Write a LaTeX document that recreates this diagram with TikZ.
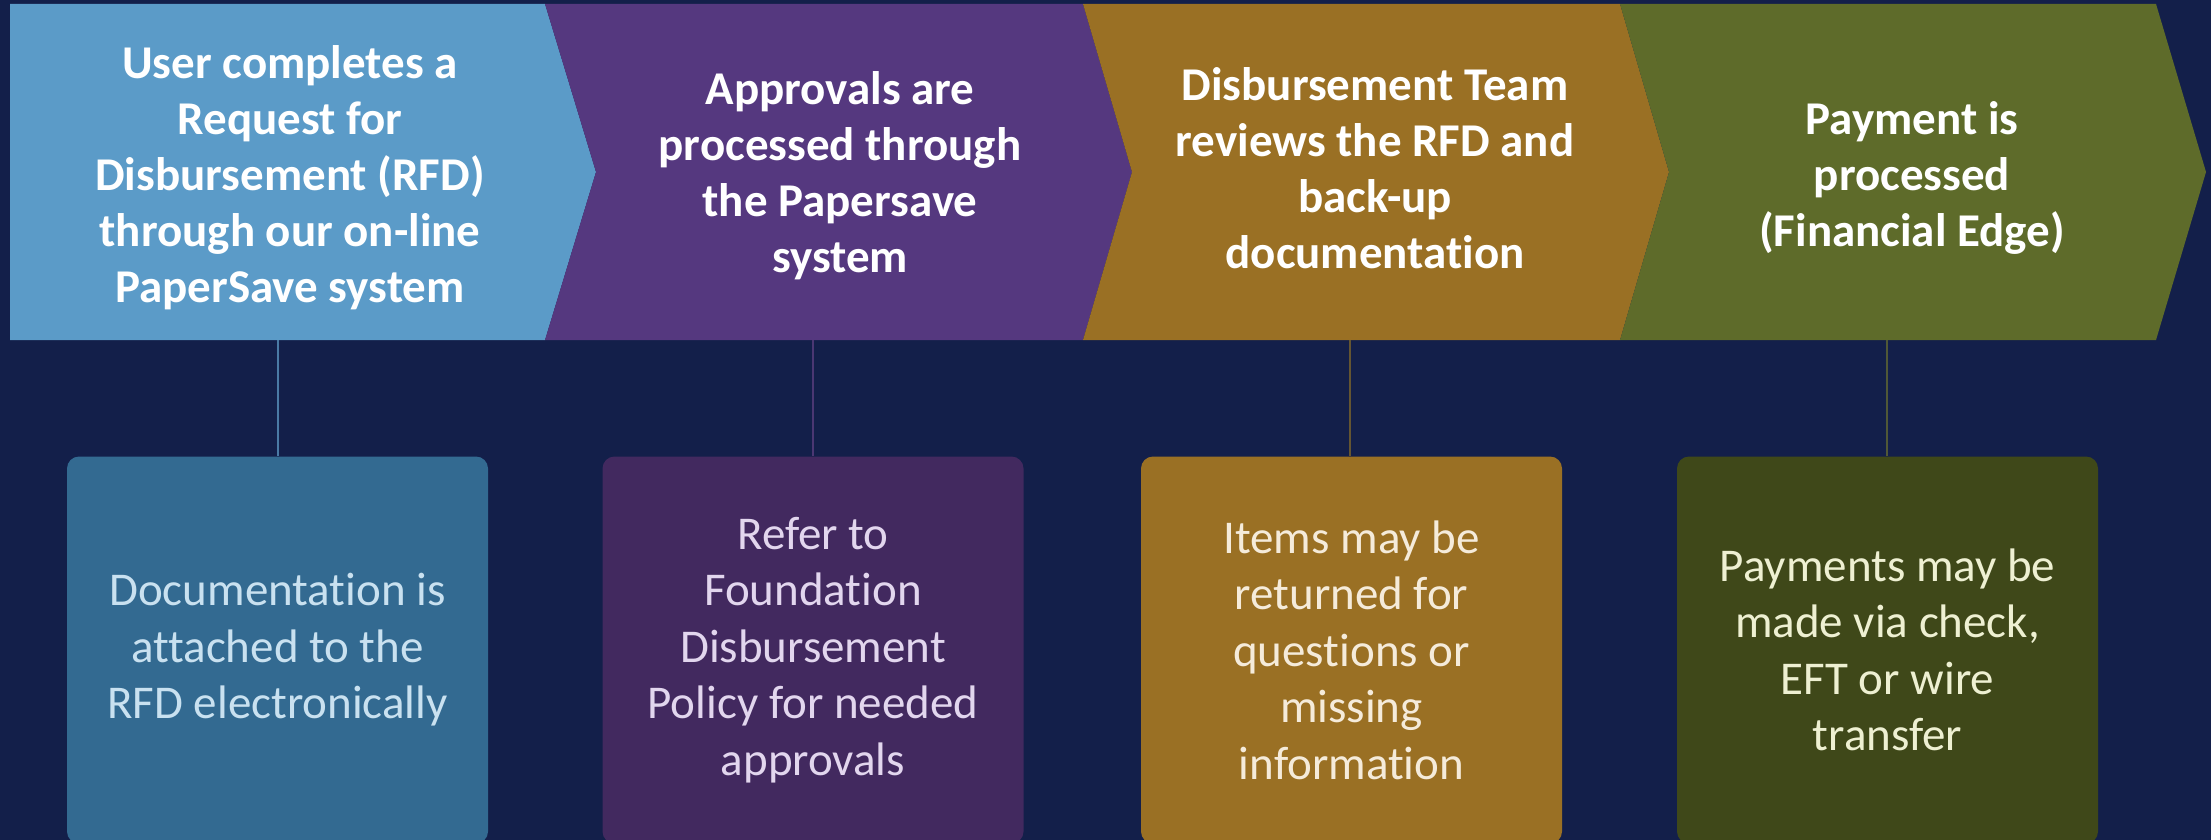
\documentclass[tikz,border=0pt]{standalone}
\usepackage{fontspec}
\setmainfont[RawFeature={-liga,-clig,-dlig}]{Carlito}
\definecolor{bg}{RGB}{19,31,74}
\definecolor{cblue}{RGB}{91,155,200}
\definecolor{cpurple}{RGB}{85,56,127}
\definecolor{cbrown}{RGB}{154,112,36}
\definecolor{cgreen}{RGB}{94,107,42}
\definecolor{bblue}{RGB}{51,106,145}
\definecolor{bpurple}{RGB}{66,41,95}
\definecolor{bbrown}{RGB}{154,112,36}
\definecolor{bgreen}{RGB}{63,72,25}
\definecolor{tblue}{RGB}{201,225,240}
\definecolor{tpurple}{RGB}{226,214,238}
\definecolor{tbrown}{RGB}{245,235,218}
\definecolor{tgreen}{RGB}{238,240,210}
\definecolor{lblue}{RGB}{74,122,165}
\definecolor{lpurple}{RGB}{75,55,115}
\definecolor{lbrown}{RGB}{100,85,50}
\definecolor{lgreen}{RGB}{80,88,55}
\tikzset{
  headtext/.style={text=white, align=center, font=\fontsize{47}{56}\selectfont\bfseries, inner sep=0pt},
  infobox/.style={rounded corners=12pt, minimum width=421pt, minimum height=387pt, align=center, inner sep=0pt, font=\fontsize{47}{56.5}\selectfont},
  link/.style={line width=1.5pt}
}
\begin{document}
\begin{tikzpicture}[x=1pt,y=-1pt]
\useasboundingbox (0,0) rectangle (2211,840);
\fill[bg] (0,0) rectangle (2211,840);
\begin{scope}
\clip (0,0) rectangle (2211,840);
% chevrons
\fill[cblue] (10,4) -- (545,4) -- (596,172) -- (545,340) -- (10,340) -- cycle;
\fill[cpurple] (545,4) -- (1083,4) -- (1132,172) -- (1083,340) -- (545,340) -- (596,172) -- cycle;
\fill[cbrown] (1083,4) -- (1620,4) -- (1669,172) -- (1620,340) -- (1083,340) -- (1132,172) -- cycle;
\fill[cgreen] (1620,4) -- (2156,4) -- (2206,172) -- (2156,340) -- (1620,340) -- (1669,172) -- cycle;
% chevron texts
\node[headtext] (h1) at (290,178) {User completes a\\Request for\\Disbursement (RFD)\\through our on-line\\PaperSave system};
\node[headtext] (h2) at (840,176) {Approvals are\\processed through\\the Papersave\\system};
\node[headtext] (h3) at (1375,168) {Disbursement Team\\reviews the RFD and\\back-up\\documentation};
\node[headtext] (h4) at (1912,178) {Payment is\\processed\\(Financial Edge)};
% anchor points under chevrons
\coordinate (c1) at (278,340);
\coordinate (c2) at (813,340);
\coordinate (c3) at (1350,340);
\coordinate (c4) at (1887,340);
% boxes
\node[infobox, fill=bblue, text=tblue] (b1) at (277.5,650) {Documentation is\\attached to the\\RFD electronically};
\node[infobox, fill=bpurple, text=tpurple] (b2) at (813,650) {Refer to\\Foundation\\Disbursement\\Policy for needed\\approvals};
\node[infobox, fill=bbrown, text=tbrown] (b3) at (1351.5,650) {Items may be\\returned for\\questions or\\missing\\information};
\node[infobox, fill=bgreen, text=tgreen] (b4) at (1887.5,650) {Payments may be\\made via check,\\EFT or wire\\transfer};
% connectors
\draw[link, lblue] (c1) -- (c1 |- b1.north);
\draw[link, lpurple] (c2) -- (c2 |- b2.north);
\draw[link, lbrown] (c3) -- (c3 |- b3.north);
\draw[link, lgreen] (c4) -- (c4 |- b4.north);
\end{scope}
\end{tikzpicture}
\end{document}
